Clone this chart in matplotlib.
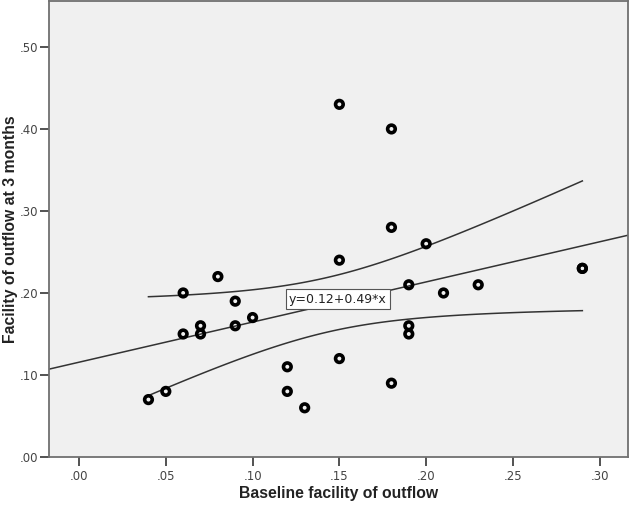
import numpy as np
import matplotlib
matplotlib.use("Agg")
import matplotlib.pyplot as plt
from matplotlib.ticker import FuncFormatter

# baseline facility of outflow vs facility at 3 months
# (the point at .29/.23 appears twice: that is what gives the printed 0.12+0.49x fit)
baseline = [0.04, 0.05, 0.06, 0.06, 0.07, 0.07, 0.08, 0.09, 0.09, 0.10,
            0.12, 0.12, 0.13, 0.15, 0.15, 0.15, 0.18, 0.18, 0.18, 0.19,
            0.19, 0.19, 0.20, 0.21, 0.23, 0.29, 0.29]
three_months = [0.07, 0.08, 0.20, 0.15, 0.16, 0.15, 0.22, 0.19, 0.16, 0.17,
                0.11, 0.08, 0.06, 0.43, 0.24, 0.12, 0.40, 0.28, 0.09, 0.21,
                0.16, 0.15, 0.26, 0.20, 0.21, 0.23, 0.23]
x_ticks = [0.00, 0.05, 0.10, 0.15, 0.20, 0.25, 0.30]
y_ticks = [0.00, 0.10, 0.20, 0.30, 0.40, 0.50]

x = np.array(baseline)
y = np.array(three_months)
n = len(x)
slope, intercept = np.polyfit(x, y, 1)
resid = y - (intercept + slope * x)
s = np.sqrt(np.sum(resid ** 2) / (n - 2))
t_val = 2.060  # t(0.975, df=25)
sxx = np.sum((x - x.mean()) ** 2)

fig = plt.figure(figsize=(6.3, 5.05), dpi=100)
ax = fig.add_axes([49 / 630, 48 / 505, 579 / 630, 456 / 505])
ax.set_facecolor('#f0f0f0')

xlim = (-0.0173, 0.3163)
ylim = (0.0, 0.556)

# fit line across the whole axis
xl = np.linspace(xlim[0], xlim[1], 100)
ax.plot(xl, intercept + slope * xl, color='#333333', lw=1.1, zorder=2)

# 95% confidence band for the mean, over the data range
xb = np.linspace(x.min(), x.max(), 100)
yb = intercept + slope * xb
half = t_val * s * np.sqrt(1 / n + (xb - x.mean()) ** 2 / sxx)
ax.plot(xb, yb + half, color='#333333', lw=1.1, zorder=2)
ax.plot(xb, yb - half, color='#333333', lw=1.1, zorder=2)

ax.scatter(x, y, s=30, facecolors='none', edgecolors='black', linewidths=2.6, zorder=3)

ax.text(0.1210, 0.1925, 'y=0.12+0.49*x', fontsize=9, color='#222222', va='center', ha='left',
        bbox=dict(boxstyle='square,pad=0.25', fc='white', ec='#555555', lw=0.8), zorder=4)

ax.set_xlim(xlim)
ax.set_ylim(ylim)
ax.set_xticks(x_ticks)
ax.set_yticks(y_ticks)
fmt = FuncFormatter(lambda v, p: ('%.2f' % v).lstrip('0'))
ax.xaxis.set_major_formatter(fmt)
ax.yaxis.set_major_formatter(fmt)
ax.tick_params(direction='out', length=6.5, width=1.3, color='#444444', labelsize=8.5,
               labelcolor='#444444')
ax.tick_params(axis='y', pad=1.5)
ax.tick_params(axis='x', pad=3)
for sp in ax.spines.values():
    sp.set_color('#707070')
    sp.set_linewidth(1.3)

ax.set_xlabel('Baseline facility of outflow', fontsize=11.3, fontweight='bold',
              family='Liberation Sans', color='#222222', va='center')
ax.xaxis.set_label_coords(0.5, -0.079)
ax.set_ylabel('Facility of outflow at 3 months', fontsize=11.3, fontweight='bold',
              family='Liberation Sans', color='#222222', va='center')
ax.yaxis.set_label_coords(-0.066, 0.5)

fig.savefig('out.png', dpi=100)
